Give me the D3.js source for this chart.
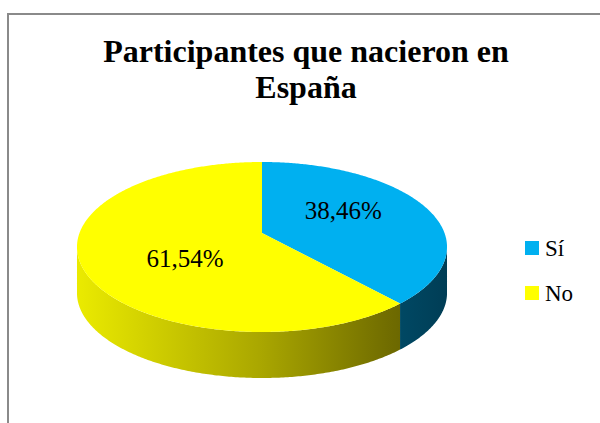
<!DOCTYPE html>
<html>
<head>
<meta charset="utf-8">
<script src="https://cdn.jsdelivr.net/npm/d3@7"></script>
<style>
  html, body { margin: 0; padding: 0; background: #ffffff; }
  svg { display: block; }
  text { font-family: "Liberation Serif", "Times New Roman", Tinos, Times, "Nimbus Roman", "DejaVu Serif", serif; }
</style>
</head>
<body>
<svg id="chart" width="600" height="423"></svg>
<script>
// ---- data ----
const categories = ["Sí", "No"];
const values = [38.46, 61.54];
const colors = ["#00B0F0", "#FFFF00"];
const titleLines = ["Participantes que nacieron en", "España"];

// ---- layout ----
const W = 600, H = 423;
const svg = d3.select("#chart");
const cx = 262, apexY = 233;   // projected pie centre
const A = 182.5, B = 82.7, k = 0.1646; // perspective projection params
const depth = 46;

// chart area border
svg.append("rect")
  .attr("x", 8).attr("y", 14).attr("width", W + 10).attr("height", H + 10)
  .attr("fill", "#fff").attr("stroke", "#8a8a8a").attr("stroke-width", 2);

// title
svg.append("text")
  .attr("text-anchor", "middle")
  .attr("font-weight", "bold").attr("font-size", 32).attr("fill", "#000")
  .selectAll("tspan").data(titleLines).join("tspan")
  .attr("x", 306).attr("y", (d, i) => 62 + i * 36).text(d => d);

// projection of a point on unit circle at data angle theta (clockwise from top), radius f
function proj(theta, f = 1, dz = 0) {
  const u = f * Math.sin(theta), v = -f * Math.cos(theta);
  const s = 1 / (1 - k * v);
  return [cx + A * u * s, apexY + B * v * s + dz];
}

const pie = d3.pie().sort(null).value(d => d)(values);

const defs = svg.append("defs");
function sideGrad(id, stops) {
  const g = defs.append("linearGradient").attr("id", id)
    .attr("gradientUnits", "userSpaceOnUse")
    .attr("x1", cx - 186).attr("x2", cx + 186).attr("y1", 0).attr("y2", 0);
  stops.forEach(s => g.append("stop").attr("offset", s[0]).attr("stop-color", s[1]));
}
sideGrad("side0", [[0, "#0096CC"], [0.5, "#006F96"], [0.85, "#004A66"], [1, "#003D55"]]);
sideGrad("side1", [[0, "#EBEB00"], [0.5, "#A9A600"], [0.85, "#6F6B00"], [1, "#5A5600"]]);

const thR = Math.acos(-k);            // right silhouette
const thL = 2 * Math.PI - Math.acos(-k); // left silhouette

function arcPts(a0, a1, f, dz) {
  const n = Math.max(2, Math.ceil(Math.abs(a1 - a0) / 0.01));
  const pts = [];
  for (let i = 0; i <= n; i++) pts.push(proj(a0 + (a1 - a0) * i / n, f, dz));
  return pts;
}

const line = d3.line();

// sides
pie.forEach((p, i) => {
  const a0 = Math.max(p.startAngle, thR), a1 = Math.min(p.endAngle, thL);
  if (a1 <= a0) return;
  const pts = arcPts(a0, a1, 1, 0).concat(arcPts(a1, a0, 1, depth));
  svg.append("path").attr("d", line(pts) + "Z")
    .attr("fill", `url(#side${i})`);
});

// tops
pie.forEach((p, i) => {
  const pts = [proj(0, 0)].concat(arcPts(p.startAngle, p.endAngle, 1, 0));
  svg.append("path").attr("d", line(pts) + "Z")
    .attr("fill", colors[i]);
});

// data labels
const labelPos = [{ f: 0.49, dy: -0.5 }, { f: 0.44, dy: 21 }];
pie.forEach((p, i) => {
  const mid = (p.startAngle + p.endAngle) / 2;
  const [x, y] = proj(mid, labelPos[i].f);
  svg.append("text")
    .attr("x", x).attr("y", y + labelPos[i].dy)
    .attr("text-anchor", "middle")
    .attr("font-size", 25).attr("fill", "#000")
    .text(values[i].toFixed(2).replace(".", ",") + "%");
});

// legend
const lg = svg.append("g").attr("transform", "translate(525,241)");
categories.forEach((c, i) => {
  const g = lg.append("g").attr("transform", `translate(0,${i * 45})`);
  g.append("rect").attr("width", 14).attr("height", 14).attr("fill", colors[i]);
  g.append("text").attr("x", 20).attr("y", 15)
    .attr("font-size", 23).attr("fill", "#000").text(c);
});
</script>
</body>
</html>
